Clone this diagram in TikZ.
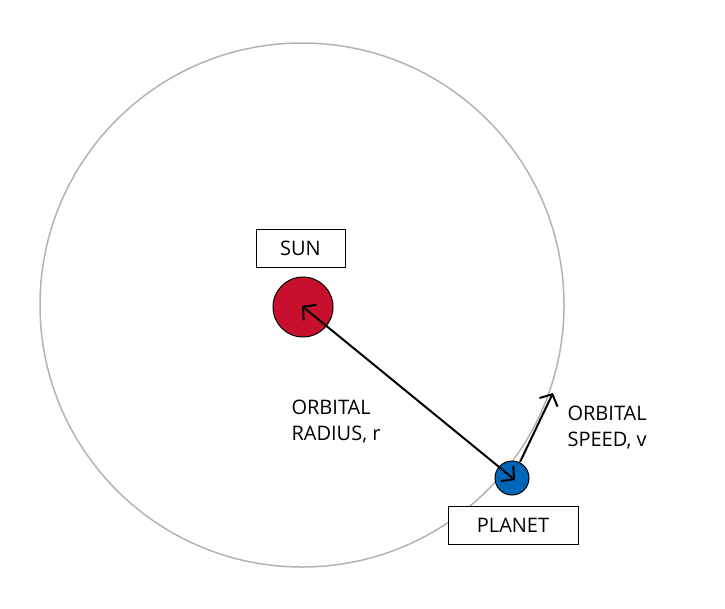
\documentclass[tikz,border=0pt]{standalone}
\usepackage{fontspec}
\setmainfont{Open Sans}
\usetikzlibrary{arrows.meta}
\definecolor{sunred}{HTML}{C8102E}
\definecolor{planetblue}{HTML}{0066B8}
\definecolor{orbitgray}{HTML}{B3B3B3}
\begin{document}
\begin{tikzpicture}[x=1pt,y=-1pt,
  lbl/.style={draw=black,line width=1pt,fill=white,font=\fontsize{20}{24}\selectfont,inner sep=0pt,minimum height=38pt},
  txt/.style={font=\fontsize{20}{26}\selectfont,align=left,anchor=west},
  arr/.style={line width=2pt,-{Straight Barb[length=9pt,width=20pt,line width=2pt]}}]
\useasboundingbox (0,0) rectangle (725,608);
\begin{scope}
\clip (0,0) rectangle (725,568);
\draw[orbitgray,line width=1.5pt] (302,305) circle (262);
\end{scope}
\node[circle,draw=black,line width=1pt,fill=sunred,minimum size=60pt,inner sep=0pt] (sun) at (303,307) {};
\node[circle,draw=black,line width=1pt,fill=planetblue,minimum size=34pt,inner sep=0pt] (planet) at (512,478) {};
\node[lbl,minimum width=89pt] (sunl) at (300.5,248) {SUN};
\node[lbl,minimum width=130pt] (planetl) at (513,525) {PLANET};
\coordinate (rs) at (302,306);
\coordinate (rp) at (515,480);
\draw[line width=2pt,{Straight Barb[length=9pt,width=20pt,line width=2pt]}-{Straight Barb[length=9pt,width=20pt,line width=2pt]}] (rs) -- (rp);
\coordinate (v0) at (520,462);
\coordinate (v1) at (553,393);
\draw[arr] (v0) -- (v1);
\node[txt] (rl) at (288,422) {ORBITAL\\RADIUS, r};
\node[txt] (vl) at (564,428) {ORBITAL\\SPEED, v};
\end{tikzpicture}
\end{document}
